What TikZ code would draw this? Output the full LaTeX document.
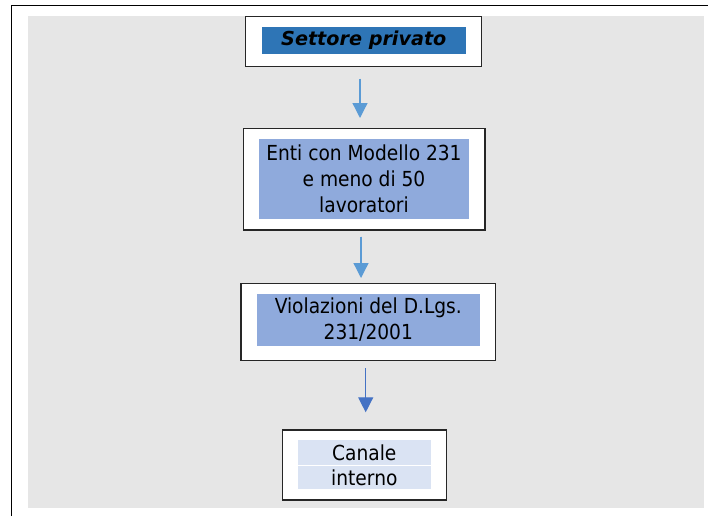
\documentclass[tikz,border=0pt]{standalone}
\usepackage{fontspec}
\setmainfont{DejaVu Sans Condensed}
\newfontfamily\titlefont{DejaVu Sans}
\usetikzlibrary{arrows.meta}
\definecolor{bggray}{HTML}{E6E6E6}
\definecolor{darkblue}{HTML}{2E75B6}
\definecolor{midblue}{HTML}{8FAADC}
\definecolor{paleblue}{HTML}{DAE3F3}
\definecolor{arrowlight}{HTML}{5B9BD5}
\definecolor{arrowdark}{HTML}{4472C4}
\tikzset{
  outerbox/.style={draw=black!85, line width=1.3pt, fill=white, inner sep=0pt},
  innerbox/.style={inner sep=0pt, align=center, text=black,
    font=\fontsize{20.7}{26}\selectfont},
  flowarrow/.style={line width=1.3pt, -{Triangle[length=15pt,width=15pt]}},
}
\begin{document}
\begin{tikzpicture}[x=1pt,y=-1pt]
\useasboundingbox (0,0) rectangle (708,516);
\fill[bggray] (28,16) rectangle (704,508);
\draw[line width=1.7pt] (11.5,516) -- (11.5,5.5) -- (708,5.5);

% box 1
\node[outerbox, minimum width=236pt, minimum height=50pt] (b1) at (363.7,41.7) {};
\node[innerbox, fill=darkblue, minimum width=204.3pt, minimum height=27.6pt,
  font=\titlefont\fontsize{19.2}{24}\selectfont\bfseries\itshape] (t1) at (363.8,40.5) {Settore privato};

% box 2
\node[outerbox, minimum width=241.7pt, minimum height=101.7pt] (b2) at (364.2,179.2) {};
\node[innerbox, fill=midblue, minimum width=210pt, minimum height=80.3pt] (t2) at (364,179.2)
  {Enti con Modello 231\\e meno di 50\\lavoratori};

% box 3
\node[outerbox, minimum width=254.7pt, minimum height=77.4pt] (b3) at (368.3,322) {};
\node[innerbox, fill=midblue, minimum width=223.3pt, minimum height=52pt] (t3) at (368.3,320)
  {Violazioni del D.Lgs.\\231/2001};

% box 4
\node[outerbox, minimum width=164.4pt, minimum height=70pt] (b4) at (364.5,465) {};
\node[innerbox, fill=paleblue, minimum width=132.7pt, minimum height=25.2pt] (t4a) at (364.3,452.6) {Canale};
\node[innerbox, fill=paleblue, minimum width=132.7pt, minimum height=23.1pt] (t4b) at (364.3,477.75) {interno};

% arrows
\coordinate (a1s) at (360,79);
\coordinate (a1e) at (360,118);
\coordinate (a2s) at (361,236.7);
\coordinate (a2e) at (361,278);
\coordinate (a3s) at (365.7,368);
\coordinate (a3e) at (365.7,412.3);
\draw[flowarrow, draw=arrowlight, fill=arrowlight] (a1s) -- (a1e);
\draw[flowarrow, draw=arrowlight, fill=arrowlight] (a2s) -- (a2e);
\draw[flowarrow, draw=arrowdark, fill=arrowdark] (a3s) -- (a3e);
\end{tikzpicture}
\end{document}
